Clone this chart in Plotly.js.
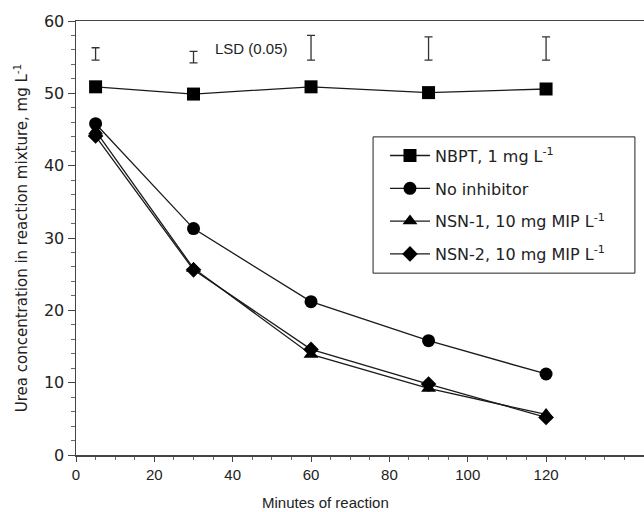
<!DOCTYPE html>
<html>
<head>
<meta charset="utf-8">
<script src="https://cdn.plot.ly/plotly-3.0.1.min.js"></script>
<style>html,body{margin:0;padding:0;background:#fff;}#chart{width:644px;height:512px;}</style>
</head>
<body>
<div id="chart"></div>
<script>
const minutes = [5, 30, 60, 90, 120];
const nbpt = [50.9, 49.9, 50.9, 50.1, 50.6];
const noInhibitor = [45.8, 31.3, 21.2, 15.8, 11.2];
const nsn1 = [44.8, 25.8, 13.9, 9.2, 5.6];
const nsn2 = [44.1, 25.6, 14.6, 9.8, 5.2];
const lsdCenter = [55.45, 55.0, 56.3, 56.2, 56.2];
const lsdHalf = [0.85, 0.8, 1.7, 1.6, 1.6];
const seriesNames = [
  'NBPT, 1 mg L<sup>-1</sup>',
  'No inhibitor',
  'NSN-1, 10 mg MIP L<sup>-1</sup>',
  'NSN-2, 10 mg MIP L<sup>-1</sup>'
];
const seriesValues = [nbpt, noInhibitor, nsn1, nsn2];
const symbols = ['square', 'circle', 'triangle-up', 'diamond'];
const sizes = [13, 13, 13, 12];

const ink = '#1a1a1a';
const traces = seriesValues.map((vals, i) => ({
  type: 'scatter', mode: 'lines+markers',
  x: minutes, y: vals, name: seriesNames[i],
  legendgroup: 'g' + i,
  line: {color: ink, width: 1.3},
  marker: {symbol: symbols[i], size: sizes[i], color: '#000'}
}));
traces.push({
  type: 'scatter', mode: 'markers', x: minutes, y: lsdCenter,
  showlegend: false, hoverinfo: 'skip',
  marker: {size: 1, color: 'rgba(0,0,0,0)'},
  error_y: {type: 'data', array: lsdHalf, visible: true, color: '#333', thickness: 1.3, width: 4}
});

const arial = {family: 'Liberation Sans, Arial, sans-serif', size: 15, color: '#222'};
const dejavu = {family: 'DejaVu Sans, sans-serif', size: 15, color: '#222'};
const layout = {
  width: 644, height: 512,
  margin: {l: 76, r: 0, t: 21, b: 57},
  paper_bgcolor: '#fff', plot_bgcolor: '#fff',
  font: arial,
  showlegend: true,
  xaxis: {
    range: [0, 145], tickvals: [0, 20, 40, 60, 80, 100, 120],
    showgrid: false, zeroline: false,
    showline: true, linecolor: '#444', linewidth: 1.5, mirror: true,
    ticks: 'outside', ticklen: 5, tickcolor: '#444', tickwidth: 1,
    minor: {dtick: 5, ticks: 'outside', ticklen: 3, tickcolor: '#666', showgrid: false},
    tickfont: {family: arial.family, size: 15, color: '#222'}
  },
  yaxis: {
    range: [0, 60], dtick: 10,
    showgrid: false, zeroline: false,
    showline: true, linecolor: '#444', linewidth: 1.5,
    ticks: 'outside', ticklen: 7, tickcolor: '#444', tickwidth: 1,
    minor: {dtick: 2, ticks: 'outside', ticklen: 4, tickcolor: '#666', showgrid: false},
    tickfont: {family: dejavu.family, size: 16, color: '#222'},
    title: {text: 'Urea concentration in reaction mixture, mg L<sup>-1</sup>', font: dejavu, standoff: 12}
  },
  legend: {
    x: 0.544, y: 0.729, xanchor: 'left', yanchor: 'top',
    borderwidth: 0, bgcolor: 'rgba(0,0,0,0)',
    font: {family: dejavu.family, size: 16, color: '#222'},
    tracegroupgap: 9, itemwidth: 40
  },
  shapes: [
    {type: 'rect', xref: 'paper', yref: 'paper', x0: 0.523, x1: 0.984, y0: 0.419, y1: 0.733,
     line: {color: '#222', width: 1}, fillcolor: 'rgba(0,0,0,0)', layer: 'below'}
  ],
  annotations: [
    {text: 'LSD (0.05)', x: 35, y: 56.2, xref: 'x', yref: 'y', xanchor: 'left', yanchor: 'middle', showarrow: false, font: arial},
    {text: 'Minutes of reaction', x: 0.44, y: 0, xref: 'paper', yref: 'paper', xanchor: 'center', yanchor: 'top', yshift: -37, showarrow: false, font: arial}
  ]
};
Plotly.newPlot('chart', traces, layout, {displayModeBar: false, staticPlot: true});
</script>
</body>
</html>
